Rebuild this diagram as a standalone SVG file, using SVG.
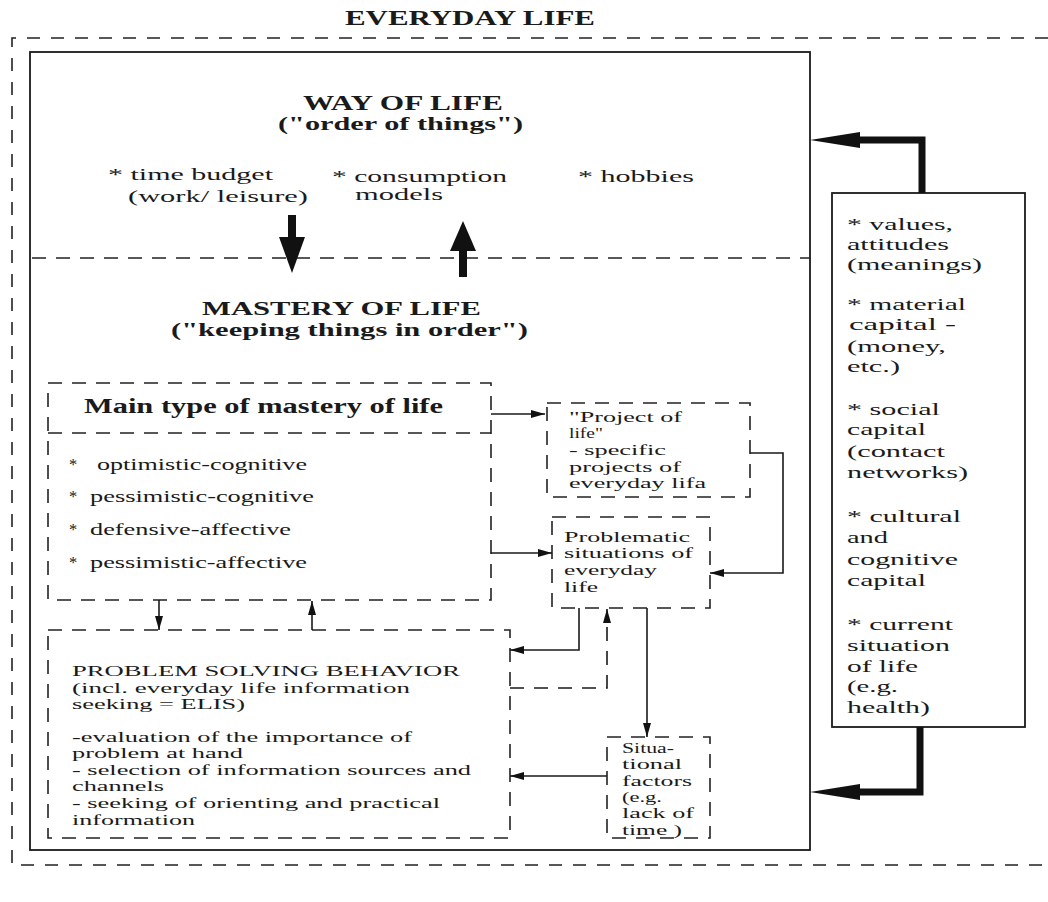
<svg xmlns="http://www.w3.org/2000/svg" width="1048" height="902" viewBox="0 0 1048 902">
<style>
  text { font-family: "Liberation Serif", "Times New Roman", serif; fill: #1a1a1a; }
  .t { font-size: 16.5px; }
  .s { font-size: 15px; }
  .b { font-weight: bold; }
  .dash { fill: none; stroke: #222; stroke-width: 1.6; stroke-dasharray: 14 10; }
  .odash { fill: none; stroke: #222; stroke-width: 1.6; stroke-dasharray: 13 11; }
  .solid { fill: none; stroke: #1a1a1a; stroke-width: 1.8; }
  .con { fill: none; stroke: #1a1a1a; stroke-width: 1.6; }
  .cond { fill: none; stroke: #1a1a1a; stroke-width: 1.6; stroke-dasharray: 14 10; }
  .thick { fill: none; stroke: #111; stroke-width: 7; }
</style>
<defs>
  <marker id="ah" viewBox="0 0 14 8" refX="14" refY="4" markerWidth="14" markerHeight="8" markerUnits="userSpaceOnUse" orient="auto">
    <path d="M0,0 L14,4 L0,8 z" fill="#111"/>
  </marker>
</defs>
<rect width="1048" height="902" fill="#ffffff"/>

<g id="everyday-life">
  <text class="b" x="345" y="25" font-size="20" textLength="250" lengthAdjust="spacingAndGlyphs">EVERYDAY LIFE</text>
  <path class="odash" d="M1048,38 H12 V865 H1048"/>
</g>

<g id="inner-frame">
  <rect class="solid" x="30" y="52" width="780" height="798"/>
  <line class="dash" x1="32" y1="258" x2="810" y2="258"/>
</g>

<g id="way-of-life">
  <text class="b" x="303" y="110" font-size="21" textLength="200" lengthAdjust="spacingAndGlyphs">WAY OF LIFE</text>
  <text class="b" x="278" y="130" font-size="19" textLength="245" lengthAdjust="spacingAndGlyphs">("order of things")</text>
  <text class="t" x="108" y="180" textLength="165" lengthAdjust="spacingAndGlyphs">* time budget</text>
  <text class="t" x="128" y="202" textLength="180" lengthAdjust="spacingAndGlyphs">(work/ leisure)</text>
  <text class="t" x="332" y="182" textLength="175" lengthAdjust="spacingAndGlyphs">* consumption</text>
  <text class="t" x="355" y="200" textLength="88" lengthAdjust="spacingAndGlyphs">models</text>
  <text class="t" x="578" y="182" textLength="116" lengthAdjust="spacingAndGlyphs">* hobbies</text>
</g>

<g id="mastery-of-life">
  <text class="b" x="202" y="315" font-size="19" textLength="279" lengthAdjust="spacingAndGlyphs">MASTERY OF LIFE</text>
  <text class="b" x="171" y="336" font-size="19" textLength="357" lengthAdjust="spacingAndGlyphs">("keeping things in order")</text>
</g>

<g id="main-type">
  <rect class="dash" x="48" y="383" width="443" height="217"/>
  <line class="dash" x1="48" y1="433" x2="491" y2="433"/>
  <text class="b" x="84" y="413" font-size="20" textLength="359" lengthAdjust="spacingAndGlyphs">Main type of mastery of life</text>
  <text class="t" x="69" y="470">*</text>
  <text class="t" x="97" y="470" textLength="210" lengthAdjust="spacingAndGlyphs">optimistic-cognitive</text>
  <text class="t" x="69" y="502">*</text>
  <text class="t" x="90" y="502" textLength="224" lengthAdjust="spacingAndGlyphs">pessimistic-cognitive</text>
  <text class="t" x="69" y="535">*</text>
  <text class="t" x="90" y="535" textLength="201" lengthAdjust="spacingAndGlyphs">defensive-affective</text>
  <text class="t" x="69" y="568">*</text>
  <text class="t" x="90" y="568" textLength="217" lengthAdjust="spacingAndGlyphs">pessimistic-affective</text>
</g>

<g id="project-of-life">
  <rect class="dash" x="547" y="403" width="203" height="94"/>
  <text class="s" x="569" y="422" textLength="113" lengthAdjust="spacingAndGlyphs">"Project of</text>
  <text class="s" x="569" y="438" textLength="34" lengthAdjust="spacingAndGlyphs">life"</text>
  <text class="s" x="569" y="455" textLength="97" lengthAdjust="spacingAndGlyphs">- specific</text>
  <text class="s" x="569" y="472" textLength="112" lengthAdjust="spacingAndGlyphs">projects of</text>
  <text class="s" x="569" y="488" textLength="137" lengthAdjust="spacingAndGlyphs">everyday lifa</text>
</g>

<g id="problematic-situations">
  <rect class="dash" x="552" y="517" width="158" height="91"/>
  <text class="s" x="564" y="542" textLength="126" lengthAdjust="spacingAndGlyphs">Problematic</text>
  <text class="s" x="564" y="558" textLength="129" lengthAdjust="spacingAndGlyphs">situations of</text>
  <text class="s" x="564" y="575" textLength="93" lengthAdjust="spacingAndGlyphs">everyday</text>
  <text class="s" x="564" y="592" textLength="34" lengthAdjust="spacingAndGlyphs">life</text>
</g>

<g id="problem-solving-behavior">
  <rect class="dash" x="48" y="630" width="462" height="208"/>
  <text class="s" x="72" y="676" textLength="388" lengthAdjust="spacingAndGlyphs">PROBLEM SOLVING BEHAVIOR</text>
  <text class="s" x="72" y="693" textLength="338" lengthAdjust="spacingAndGlyphs">(incl.  everyday life information</text>
  <text class="s" x="72" y="709" textLength="173" lengthAdjust="spacingAndGlyphs">seeking = ELIS)</text>
  <text class="s" x="72" y="742" textLength="340" lengthAdjust="spacingAndGlyphs">-evaluation of the importance of</text>
  <text class="s" x="72" y="758" textLength="171" lengthAdjust="spacingAndGlyphs">problem at hand</text>
  <text class="s" x="72" y="775" textLength="399" lengthAdjust="spacingAndGlyphs">- selection of information sources and</text>
  <text class="s" x="72" y="791" textLength="92" lengthAdjust="spacingAndGlyphs">channels</text>
  <text class="s" x="72" y="808" textLength="368" lengthAdjust="spacingAndGlyphs">- seeking of orienting and practical</text>
  <text class="s" x="72" y="825" textLength="123" lengthAdjust="spacingAndGlyphs">information</text>
</g>

<g id="situational-factors">
  <rect class="dash" x="607" y="737" width="103" height="101"/>
  <text class="s" x="622" y="753" textLength="52" lengthAdjust="spacingAndGlyphs">Situa-</text>
  <text class="s" x="622" y="769" textLength="60" lengthAdjust="spacingAndGlyphs">tional</text>
  <text class="s" x="622" y="786" textLength="70" lengthAdjust="spacingAndGlyphs">factors</text>
  <text class="s" x="622" y="802" textLength="40" lengthAdjust="spacingAndGlyphs">(e.g.</text>
  <text class="s" x="622" y="818" textLength="72" lengthAdjust="spacingAndGlyphs">lack of</text>
  <text class="s" x="622" y="835" textLength="60" lengthAdjust="spacingAndGlyphs">time )</text>
</g>

<g id="resources">
  <rect class="solid" x="832" y="193" width="193" height="534"/>
  <text class="t" x="847" y="230" textLength="106" lengthAdjust="spacingAndGlyphs">* values,</text>
  <text class="t" x="847" y="250" textLength="102" lengthAdjust="spacingAndGlyphs">attitudes</text>
  <text class="t" x="847" y="270" textLength="135" lengthAdjust="spacingAndGlyphs">(meanings)</text>
  <text class="t" x="847" y="310" textLength="119" lengthAdjust="spacingAndGlyphs">* material</text>
  <text class="t" x="849" y="330" textLength="107" lengthAdjust="spacingAndGlyphs">capital -</text>
  <text class="t" x="847" y="352" textLength="99" lengthAdjust="spacingAndGlyphs">(money,</text>
  <text class="t" x="847" y="372" textLength="53" lengthAdjust="spacingAndGlyphs">etc.)</text>
  <text class="t" x="847" y="415" textLength="93" lengthAdjust="spacingAndGlyphs">* social</text>
  <text class="t" x="847" y="435" textLength="79" lengthAdjust="spacingAndGlyphs">capital</text>
  <text class="t" x="847" y="457" textLength="98" lengthAdjust="spacingAndGlyphs">(contact</text>
  <text class="t" x="847" y="478" textLength="121" lengthAdjust="spacingAndGlyphs">networks)</text>
  <text class="t" x="847" y="522" textLength="114" lengthAdjust="spacingAndGlyphs">* cultural</text>
  <text class="t" x="847" y="543" textLength="41" lengthAdjust="spacingAndGlyphs">and</text>
  <text class="t" x="847" y="565" textLength="111" lengthAdjust="spacingAndGlyphs">cognitive</text>
  <text class="t" x="847" y="586" textLength="79" lengthAdjust="spacingAndGlyphs">capital</text>
  <text class="t" x="847" y="630" textLength="106" lengthAdjust="spacingAndGlyphs">* current</text>
  <text class="t" x="847" y="651" textLength="103" lengthAdjust="spacingAndGlyphs">situation</text>
  <text class="t" x="847" y="672" textLength="71" lengthAdjust="spacingAndGlyphs">of life</text>
  <text class="t" x="847" y="692" textLength="51" lengthAdjust="spacingAndGlyphs">(e.g.</text>
  <text class="t" x="847" y="713" textLength="83" lengthAdjust="spacingAndGlyphs">health)</text>
</g>

<g id="connectors">
  <!-- way of life <-> mastery of life -->
  <rect x="288" y="215" width="8" height="24" fill="#111"/>
  <polygon points="279,237 305,237 292,273" fill="#111"/>
  <polygon points="450,251 476,251 463,221" fill="#111"/>
  <rect x="459" y="249" width="8" height="28" fill="#111"/>
  <!-- main type -> project / problematic -->
  <line class="con" x1="491" y1="414" x2="545" y2="414" marker-end="url(#ah)"/>
  <line class="con" x1="491" y1="553" x2="552" y2="553" marker-end="url(#ah)"/>
  <!-- project -> problematic -->
  <path class="con" d="M750,453 H783 V573 H710" marker-end="url(#ah)"/>
  <!-- main type <-> PSB -->
  <line class="con" x1="159" y1="600" x2="159" y2="630" marker-end="url(#ah)"/>
  <line class="con" x1="312" y1="630" x2="312" y2="601" marker-end="url(#ah)"/>
  <!-- problematic -> PSB -->
  <path class="con" d="M579,608 V650 H510" marker-end="url(#ah)"/>
  <!-- PSB -> problematic (dashed) -->
  <path class="cond" d="M510,688 H607 V609" marker-end="url(#ah)"/>
  <!-- problematic -> situational -->
  <line class="con" x1="647" y1="608" x2="647" y2="737" marker-end="url(#ah)"/>
  <!-- situational -> PSB -->
  <line class="con" x1="607" y1="776" x2="510" y2="776" marker-end="url(#ah)"/>
  <!-- resources -> way of life / mastery -->
  <path class="thick" d="M922,193 V140 H852"/>
  <polygon points="810,140 860,132 860,148" fill="#111"/>
  <path class="thick" d="M920,727 V792 H852"/>
  <polygon points="810,792 860,784 860,800" fill="#111"/>
</g>
</svg>
